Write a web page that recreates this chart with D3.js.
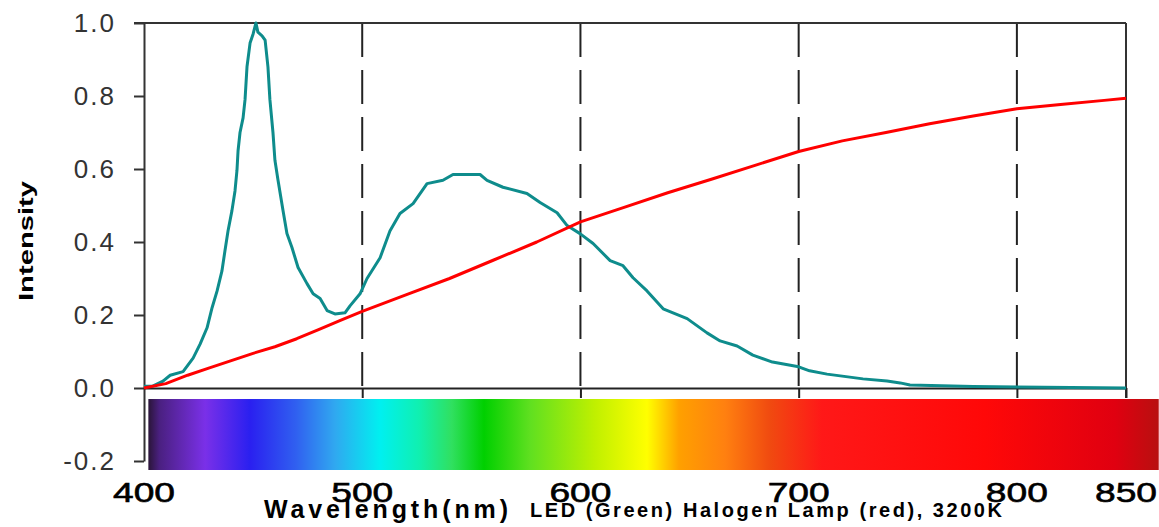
<html lang="en">
<head>
  <meta charset="UTF-8">
  <title>LED vs Halogen spectrum</title>
  <style>
    body { margin: 0; background: #fff; }
    text { font-family: "Liberation Sans", Arial, sans-serif; }
  </style>
</head>
<body>
  <div id="my_dataviz"></div>
  <script src="https://d3js.org/d3.v7.min.js"></script>
  <script>

    // LED (green/teal) spectrum: wavelength (nm) and intensity
    const ledWave = [400, 404, 408.7, 412, 417.9, 422.5, 425.7, 428.9, 431.2, 433.5, 435.7, 437.1, 438.5, 440.3, 441.7, 442.6, 443.1, 444, 445.4, 446.3, 447.2, 448.6, 450, 451.3, 452.2, 454.1, 455.5, 456.8, 457.7, 459.1, 460, 461.4, 463.7, 465.5, 467.8, 470.6, 474.7, 477.5, 480.7, 483.9, 487.5, 492.1, 494.4, 499, 502.2, 508.2, 512.7, 517.3, 523.3, 529.7, 537, 541.6, 554, 557.2, 564.5, 575.5, 581.5, 589.3, 593.9, 599.8, 605.8, 613.6, 619.5, 624.1, 630.5, 637.9, 648.9, 658, 664, 671.8, 679, 688, 700, 705, 713, 729.5, 740.5, 746.5, 751, 780, 850];
    const ledValue = [0.005, 0.005, 0.019, 0.035, 0.045, 0.082, 0.12, 0.165, 0.22, 0.266, 0.32, 0.376, 0.43, 0.486, 0.54, 0.596, 0.65, 0.70, 0.74, 0.79, 0.88, 0.945, 0.97, 1.0, 0.975, 0.965, 0.953, 0.88, 0.79, 0.70, 0.624, 0.57, 0.486, 0.423, 0.385, 0.33, 0.286, 0.258, 0.245, 0.212, 0.203, 0.206, 0.225, 0.258, 0.30, 0.357, 0.43, 0.478, 0.505, 0.56, 0.569, 0.585, 0.585, 0.569, 0.55, 0.533, 0.508, 0.48, 0.445, 0.423, 0.396, 0.349, 0.335, 0.302, 0.266, 0.217, 0.19, 0.151, 0.129, 0.115, 0.09, 0.071, 0.058, 0.047, 0.038, 0.025, 0.019, 0.014, 0.008, 0.004, 0.0];

    // Halogen lamp 3200K (red)
    const halWave = [400, 410, 420, 430, 440, 450, 460, 470, 480, 490, 500, 520, 540, 560, 580, 600, 620, 640, 660, 680, 700, 720, 740, 760, 780, 800, 820, 840, 850];
    const halValue = [0.0, 0.012, 0.035, 0.055, 0.075, 0.095, 0.113, 0.135, 0.16, 0.185, 0.21, 0.255, 0.30, 0.35, 0.40, 0.455, 0.495, 0.535, 0.572, 0.61, 0.648, 0.677, 0.70, 0.724, 0.745, 0.765, 0.777, 0.788, 0.794];

    const yTicks = [-0.2, 0.0, 0.2, 0.4, 0.6, 0.8, 1.0];
    const xTicks = [400, 500, 600, 700, 800, 850];
    const gridWaves = [500, 600, 700, 800];

    // spectrum strip colours by wavelength
    const spectrumWave = [402, 407, 428, 448.6, 469.7, 487.5, 508.2, 526, 541, 555.8, 577, 606.7, 630.5, 645.2, 666.3, 686.9, 710.7, 785.4, 845, 865];
    const spectrumColor = ["#2a1538", "#4a2080", "#7a30e8", "#2a20f0", "#3060f0", "#30a8f0", "#00f0f0", "#10f0b0", "#30e060", "#00d000", "#60e020", "#c0f000", "#ffff00", "#ffa000", "#ff8010", "#f04a10", "#ff1818", "#ff0808", "#e00010", "#b81010"];

    const W = 1159, H = 527;

    const svg = d3.select("#my_dataviz")
      .append("svg")
      .attr("width", W)
      .attr("height", H);

    const x = d3.scaleLinear().domain([400, 850]).range([144, 1126]);
    const y = d3.scaleLinear().domain([-0.2, 1.0]).range([461, 23]);

    // spectrum strip
    const grad = svg.append("defs").append("linearGradient")
      .attr("id", "spec")
      .attr("gradientUnits", "userSpaceOnUse")
      .attr("x1", x(spectrumWave[0]))
      .attr("x2", x(spectrumWave[spectrumWave.length - 1]))
      .attr("y1", 0).attr("y2", 0);
    const span = spectrumWave[spectrumWave.length - 1] - spectrumWave[0];
    grad.selectAll("stop")
      .data(spectrumWave)
      .join("stop")
      .attr("offset", d => (d - spectrumWave[0]) / span)
      .attr("stop-color", (d, i) => spectrumColor[i]);

    svg.append("rect")
      .attr("x", x(spectrumWave[0]))
      .attr("y", 399)
      .attr("width", x(spectrumWave[spectrumWave.length - 1]) - x(spectrumWave[0]))
      .attr("height", 71)
      .attr("fill", "url(#spec)");

    // dashed gridlines
    svg.append("g")
      .selectAll("line")
      .data(gridWaves)
      .join("line")
      .attr("x1", d => x(d)).attr("x2", d => x(d))
      .attr("y1", y(1.0)).attr("y2", y(0))
      .attr("stroke", "#222")
      .attr("stroke-width", 2)
      .attr("stroke-dasharray", "34,13");

    // frame: top and right
    svg.append("line")
      .attr("x1", 134).attr("x2", x(850))
      .attr("y1", y(1.0)).attr("y2", y(1.0))
      .attr("stroke", "#333").attr("stroke-width", 2);
    svg.append("line")
      .attr("x1", x(850)).attr("x2", x(850))
      .attr("y1", y(1.0)).attr("y2", y(0) + 10)
      .attr("stroke", "#333").attr("stroke-width", 2);

    // Y axis
    const yAxis = svg.append("g")
      .attr("transform", `translate(${x(400)},0)`)
      .call(d3.axisLeft(y)
        .tickValues(yTicks)
        .tickFormat(d => d.toFixed(1))
        .tickSize(10)
        .tickSizeOuter(0)
        .tickPadding(18));
    yAxis.select(".domain").attr("stroke", "#333").attr("stroke-width", 2);
    yAxis.selectAll(".tick line").attr("stroke", "#333").attr("stroke-width", 2);
    yAxis.selectAll(".tick text")
      .attr("font-size", 26)
      .attr("font-family", "Liberation Sans, Arial, sans-serif")
      .attr("letter-spacing", 2)
      .attr("fill", "#333");

    // X axis (zero line + ticks)
    const xAxis = svg.append("g")
      .attr("transform", `translate(0,${y(0)})`)
      .call(d3.axisBottom(x)
        .tickValues(xTicks.slice(1))
        .tickSize(10)
        .tickSizeOuter(0)
        .tickFormat(""));
    xAxis.select(".domain").attr("stroke", "#222").attr("stroke-width", 2);
    xAxis.selectAll(".tick line").attr("stroke", "#222").attr("stroke-width", 2);

    // X tick labels below the strip
    svg.append("g")
      .selectAll("text")
      .data(xTicks)
      .join("text")
      .attr("x", d => x(d) - 31)
      .attr("y", 502)
      .attr("font-size", 28)
      .attr("textLength", 62)
      .attr("lengthAdjust", "spacingAndGlyphs")
      .attr("fill", "#000")
      .attr("stroke", "#000")
      .attr("stroke-width", 0.6)
      .text(d => d);

    // curves
    const line = d3.line().x(d => x(d[0])).y(d => y(d[1]));

    svg.append("path")
      .datum(d3.zip(ledWave, ledValue))
      .attr("d", line)
      .attr("fill", "none")
      .attr("stroke", "#0e8c8c")
      .attr("stroke-width", 3)
      .attr("stroke-linejoin", "round");

    svg.append("path")
      .datum(d3.zip(halWave, halValue))
      .attr("d", line)
      .attr("fill", "none")
      .attr("stroke", "#ff0000")
      .attr("stroke-width", 3)
      .attr("stroke-linejoin", "round");

    // titles
    svg.append("text")
      .attr("transform", "translate(33,241) rotate(-90)")
      .attr("text-anchor", "middle")
      .attr("font-size", 21)
      .attr("font-weight", "bold")
      .attr("textLength", 120)
      .attr("lengthAdjust", "spacingAndGlyphs")
      .text("Intensity");

    svg.append("text")
      .attr("x", 264)
      .attr("y", 518)
      .attr("font-size", 25)
      .attr("font-weight", "bold")
      .attr("textLength", 244)
      .attr("lengthAdjust", "spacing")
      .text("Wavelength(nm)");

    svg.append("text")
      .attr("x", 530)
      .attr("y", 517)
      .attr("font-size", 20)
      .attr("font-weight", "bold")
      .attr("textLength", 472)
      .attr("lengthAdjust", "spacing")
      .text("LED (Green) Halogen Lamp (red), 3200K");

  </script>
</body>
</html>
